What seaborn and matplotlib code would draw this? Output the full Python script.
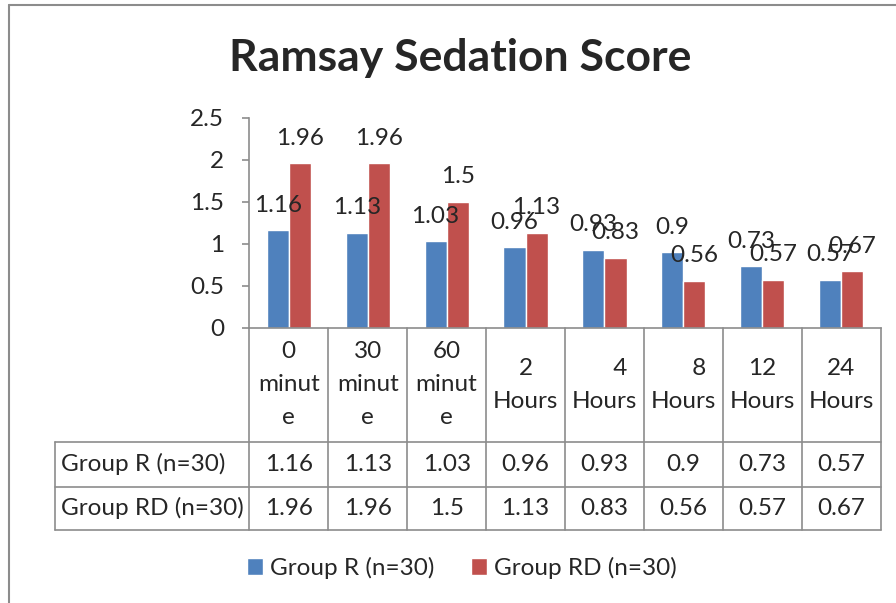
import pandas as pd
import seaborn as sns
import matplotlib.pyplot as plt
import matplotlib.transforms as mtransforms
from matplotlib.lines import Line2D

# data
categories = ["0\nminut\ne", "30\nminut\ne", "60\nminut\ne", "2\nHours",
              "     4\nHours", "     8\nHours", "12\nHours", "24\nHours"]
group_r = [1.16, 1.13, 1.03, 0.96, 0.93, 0.9, 0.73, 0.57]
group_rd = [1.96, 1.96, 1.5, 1.13, 0.83, 0.56, 0.57, 0.67]
series_names = ["Group R (n=30)", "Group RD (n=30)"]
y_ticks = [0, 0.5, 1, 1.5, 2, 2.5]

colors = ["#4F81BD", "#C0504D"]
gray = "#8c8c8c"
fs = 17.5

sns.set_style("white")
plt.rcParams['font.family'] = ['Lato', 'DejaVu Sans']

df = pd.DataFrame({
    "time": categories * 2,
    "score": group_r + group_rd,
    "group": [series_names[0]] * len(categories) + [series_names[1]] * len(categories),
})

fig = plt.figure(figsize=(8.96, 6.03), dpi=100)
ax = fig.add_axes([249.3 / 896, 1 - 327.7 / 603, 631.4 / 896, 210 / 603])

sns.barplot(data=df, x="time", y="score", hue="group", palette=colors,
            width=0.56, saturation=1, ax=ax, legend=True)

ax.set_xlim(-0.5, len(categories) - 0.5)
ax.set_ylim(0, 2.5)
ax.set_yticks(y_ticks)
ax.set_yticklabels([f"{v:g}" for v in y_ticks], fontsize=fs)
ax.set_xticks([])
ax.set_xlabel("")
ax.set_ylabel("")
ax.tick_params(axis="y", length=5, width=1.2, color=gray, pad=13, left=True)
for side in ["top", "right"]:
    ax.spines[side].set_visible(False)
for side in ["left", "bottom"]:
    ax.spines[side].set_color(gray)
    ax.spines[side].set_linewidth(1.2)

# value labels above bars
for cont, vals in zip(ax.containers, [group_r, group_rd]):
    for bar, v in zip(cont, vals):
        ax.annotate(f"{v:g}", (bar.get_x() + bar.get_width() / 2, bar.get_height()),
                    xytext=(0, 18), textcoords="offset points",
                    ha="center", va="center", fontsize=fs)

# data table under the axis
trans = mtransforms.blended_transform_factory(ax.transData, ax.transAxes)
n = len(categories)
x_left = -2.962
y_head = -0.544
y_row1 = -0.757
y_row2 = -0.963

def line(xs, ys):
    ax.add_line(Line2D(xs, ys, transform=trans, color=gray, lw=1.2, clip_on=False))

for i in range(n + 1):
    line([i - 0.5, i - 0.5], [0, y_row2])
line([x_left, x_left], [y_head, y_row2])
for yy in [y_head, y_row1, y_row2]:
    line([x_left, n - 0.5], [yy, yy])

for i, cat in enumerate(categories):
    ax.text(i, y_head / 2, cat, transform=trans, ha="center", va="center",
            fontsize=fs, linespacing=1.7, multialignment="center")

for (top, bot), name, vals in zip([(y_head, y_row1), (y_row1, y_row2)], series_names,
                                  [group_r, group_rd]):
    yc = (top + bot) / 2
    ax.text(x_left + 0.07, yc, name, transform=trans, ha="left", va="center", fontsize=fs)
    for i, v in enumerate(vals):
        ax.text(i, yc, f"{v:g}", transform=trans, ha="center", va="center", fontsize=fs)

# legend
ax.legend(loc="center", bbox_to_anchor=(462 / 896, 1 - 568 / 603),
          bbox_transform=fig.transFigure, ncol=2, frameon=False, fontsize=fs,
          handlelength=0.65, handleheight=0.65, handletextpad=0.3, columnspacing=1.5)

fig.text(460 / 896, 1 - 58 / 603, "Ramsay Sedation Score", fontsize=32,
         fontweight="bold", ha="center", va="center")

# outer chart frame
fig.add_artist(Line2D([9.3 / 896, 9.3 / 896], [0, 1 - 4.5 / 603], transform=fig.transFigure,
                      color=gray, lw=1.5))
fig.add_artist(Line2D([9.3 / 896, 1], [1 - 4.5 / 603, 1 - 4.5 / 603], transform=fig.transFigure,
                      color=gray, lw=1.5))

fig.savefig("out.png", dpi=100)
